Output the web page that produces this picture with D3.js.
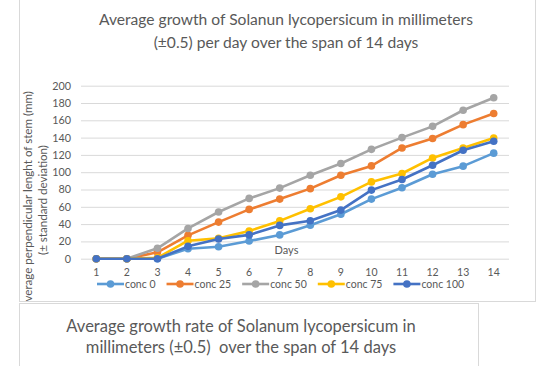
<!DOCTYPE html>
<html>
<head>
<meta charset="utf-8">
<script src="https://cdn.jsdelivr.net/npm/d3@7"></script>
<style>
    body { margin: 0; background: #ffffff; }
    svg { display: block; font-family: "Lato", "Open Sans", sans-serif; }
</style>
</head>
<body>
<div id="chart"></div>
<script>
// chart values
const days = [1, 2, 3, 4, 5, 6, 7, 8, 9, 10, 11, 12, 13, 14]
const seriesNames = ["conc 0", "conc 25", "conc 50", "conc 75", "conc 100"]
const conc0 = [0, 0, 0, 11.5, 13.8, 20.4, 27.5, 38.7, 51.4, 68.9, 82, 97.7, 107, 122]
const conc25 = [0, 0, 7.4, 27, 42.3, 57, 68.9, 81, 96.4, 107.3, 128, 139, 155, 167.8]
const conc50 = [0, 0, 12, 35, 54, 69.7, 81.6, 96.4, 110, 126.4, 140, 153, 171.6, 186]
const conc75 = [0, 0, 1, 20.8, 23.5, 32, 43.7, 57.7, 71.5, 88.8, 98.5, 116.5, 128, 139.5]
const conc100 = [0, 0, 0, 14.3, 22.7, 27.5, 38.5, 43.9, 56.2, 79.3, 91.6, 108, 125.4, 135.8]
const yTicks = [0, 20, 40, 60, 80, 100, 120, 140, 160, 180, 200]

const chartTitle = ["Average growth of Solanun lycopersicum in millimeters", "(\u00b10.5) per day over the span of 14 days"]
const yTitle = ["Average perpendicular lenght of stem (mm)", "(\u00b1 standard deviation)"]
const xTitle = "Days"
const captionText = ["Average growth rate of Solanum lycopersicum in", "millimeters (\u00b10.5)  over the span of 14 days"]

const colors = ["#5b9bd5", "#ed7d31", "#a5a5a5", "#ffc000", "#4472c4"]
const textColor = "#595959"

const W = 540, H = 366
const plot = { left: 81, right: 509, top: 85.7, bottom: 258.7 }

let series = seriesNames.map((name, i) => ({
    name: name,
    color: colors[i],
    values: [conc0, conc25, conc50, conc75, conc100][i]
}))

let svg = d3.select("#chart")
    .append("svg")
    .attr("width", W)
    .attr("height", H)

svg.append("rect").attr("width", W).attr("height", H).attr("fill", "#ffffff")

// chart card
svg.append("clipPath").attr("id", "cardClip")
    .append("rect").attr("x", 20).attr("y", -5).attr("width", 515).attr("height", 306)

svg.append("rect")
    .attr("x", 19.5).attr("y", -5)
    .attr("width", 516).attr("height", 306.5)
    .attr("fill", "#ffffff")
    .attr("stroke", "#d9d9d9")

let card = svg.append("g").attr("clip-path", "url(#cardClip)")

// title
card.append("text")
    .attr("text-anchor", "middle")
    .attr("fill", textColor)
    .style("font-size", "15.6px")
    .selectAll("tspan")
    .data(chartTitle)
    .join("tspan")
    .attr("x", 286)
    .attr("y", (d, i) => 25 + i * 22.5)
    .text(d => d)

// scales
let x = d3.scaleBand()
    .domain(days)
    .range([plot.left, plot.right])
    .paddingInner(0)
let cx = d => x(d) + x.bandwidth() / 2

let y = d3.scaleLinear()
    .domain([0, 200])
    .range([plot.bottom, plot.top])

// Y axis with gridlines
let yAxis = card.append("g")
    .attr("transform", "translate(" + plot.left + ",0)")
    .call(d3.axisLeft(y).tickValues(yTicks).tickSize(-(plot.right - plot.left)).tickPadding(10))
yAxis.select(".domain").remove()
yAxis.selectAll("line").attr("stroke", "#d9d9d9")
yAxis.selectAll("text")
    .attr("fill", textColor)
    .style("font-size", "10.8px")
    .style("font-family", "Lato")

// X axis labels
let xAxis = card.append("g")
    .attr("transform", "translate(0," + plot.bottom + ")")
    .call(d3.axisBottom(x).tickSize(0).tickPadding(9.5))
xAxis.select(".domain").remove()
xAxis.selectAll("text")
    .attr("fill", textColor)
    .style("font-size", "10.5px")
    .style("font-family", "Lato")

// axis titles
card.append("text")
    .attr("x", 286.5).attr("y", 254)
    .attr("text-anchor", "middle")
    .attr("fill", textColor)
    .style("font-size", "11px")
    .text(xTitle)

card.append("text")
    .attr("transform", "rotate(-90)")
    .attr("text-anchor", "middle")
    .attr("fill", textColor)
    .style("font-size", "11.6px")
    .selectAll("tspan")
    .data(yTitle)
    .join("tspan")
    .attr("x", -200)
    .attr("y", (d, i) => 32 + i * 15)
    .text(d => d)

// lines and markers
let line = d3.line()
    .x((d, i) => cx(days[i]))
    .y(d => y(d))

let seriesG = card.selectAll(".series")
    .data(series)
    .join("g")
    .attr("class", "series")

seriesG.append("path")
    .attr("d", d => line(d.values))
    .attr("fill", "none")
    .attr("stroke", d => d.color)
    .attr("stroke-width", 2.6)
    .attr("stroke-linejoin", "round")

seriesG.each(function (s) {
    d3.select(this).selectAll("circle")
        .data(s.values)
        .join("circle")
        .attr("cx", (d, i) => cx(days[i]))
        .attr("cy", d => y(d))
        .attr("r", 3.8)
        .attr("fill", s.color)
})

// legend
let legend = card.append("g").attr("transform", "translate(97,284)")
let lx = 0
series.forEach(s => {
    let item = legend.append("g").attr("transform", "translate(" + lx + ",0)")
    item.append("line")
        .attr("x1", 0).attr("x2", 27)
        .attr("stroke", s.color).attr("stroke-width", 2.6)
    item.append("circle")
        .attr("cx", 13.5).attr("r", 3.8)
        .attr("fill", s.color)
    let t = item.append("text")
        .attr("x", 28).attr("dy", "0.35em")
        .attr("fill", textColor)
        .style("font-size", "10.5px")
        .text(s.name)
    lx += 28 + t.node().getComputedTextLength() + 11
})

// caption card below the chart
svg.append("rect")
    .attr("x", 19.5).attr("y", 303.5)
    .attr("width", 459).attr("height", 70)
    .attr("fill", "#ffffff")
    .attr("stroke", "#d9d9d9")

svg.append("text")
    .attr("text-anchor", "middle")
    .attr("fill", textColor)
    .style("font-size", "16.5px")
    .style("white-space", "pre")
    .selectAll("tspan")
    .data(captionText)
    .join("tspan")
    .attr("x", 241)
    .attr("y", (d, i) => 332 + i * 21)
    .text(d => d)
</script>
</body>
</html>
